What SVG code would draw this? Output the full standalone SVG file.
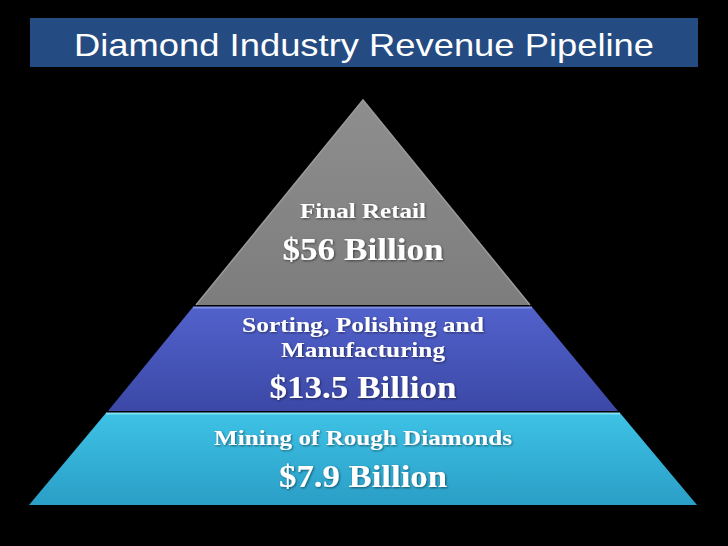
<svg xmlns="http://www.w3.org/2000/svg" width="728" height="546" viewBox="0 0 728 546">
  <style>
    .lbl { font-family: "Liberation Serif", "DejaVu Serif", serif; font-weight: bold; fill: #ffffff; text-anchor: middle; }
    .title { font-family: "Liberation Sans", "DejaVu Sans", sans-serif; fill: #ffffff; text-anchor: middle; font-size: 32px; }
  </style>
  <defs>
    <linearGradient id="gGray" x1="0" y1="0" x2="0" y2="1">
      <stop offset="0" stop-color="#8e8e8e"/>
      <stop offset="1" stop-color="#7d7d7d"/>
    </linearGradient>
    <linearGradient id="gBlue" x1="0" y1="0" x2="0" y2="1">
      <stop offset="0" stop-color="#5262cc"/>
      <stop offset="1" stop-color="#3b48a6"/>
    </linearGradient>
    <linearGradient id="gCyan" x1="0" y1="0" x2="0" y2="1">
      <stop offset="0" stop-color="#3ec2e6"/>
      <stop offset="1" stop-color="#2a9ec6"/>
    </linearGradient>
    <filter id="sh" x="-10%" y="-10%" width="120%" height="130%">
      <feDropShadow dx="1" dy="1" stdDeviation="1" flood-color="#000" flood-opacity="0.5"/>
    </filter>
  </defs>
  <rect width="728" height="546" fill="#000000"/>

  <g id="title">
    <rect x="30" y="18" width="668" height="49" fill="#244b82"/>
    <text class="title" x="364" y="56" font-size="33" textLength="580" lengthAdjust="spacingAndGlyphs">Diamond Industry Revenue Pipeline</text>
  </g>

  <g id="retail">
    <polygon points="363,100 530,305 196,305" fill="url(#gGray)"/>
    <polyline points="196,305 363,100 530,305" fill="none" stroke="#9a9a9a" stroke-width="1.5"/>
    <text class="lbl" x="363" y="218" font-size="22" textLength="126" lengthAdjust="spacingAndGlyphs" filter="url(#sh)">Final Retail</text>
    <text class="lbl" x="363" y="260" font-size="31" textLength="161" lengthAdjust="spacingAndGlyphs" filter="url(#sh)">$56 Billion</text>
  </g>

  <g id="manufacturing">
    <polygon points="193,307 532,307 618,411 108,411" fill="url(#gBlue)"/>
    <line x1="193" y1="307.5" x2="532" y2="307.5" stroke="#7f8fe8" stroke-width="2"/>
    <text class="lbl" x="363" y="332" font-size="22" textLength="242" lengthAdjust="spacingAndGlyphs" filter="url(#sh)">Sorting, Polishing and</text>
    <text class="lbl" x="363" y="357" font-size="22" textLength="164" lengthAdjust="spacingAndGlyphs" filter="url(#sh)">Manufacturing</text>
    <text class="lbl" x="363" y="398" font-size="31" textLength="187" lengthAdjust="spacingAndGlyphs" filter="url(#sh)">$13.5 Billion</text>
  </g>

  <g id="mining">
    <polygon points="106,413 620,413 697,505 29,505" fill="url(#gCyan)"/>
    <line x1="106" y1="413.5" x2="620" y2="413.5" stroke="#7fe0f6" stroke-width="2"/>
    <text class="lbl" x="363" y="445" font-size="22" textLength="298" lengthAdjust="spacingAndGlyphs" filter="url(#sh)">Mining of Rough Diamonds</text>
    <text class="lbl" x="363" y="487" font-size="32" textLength="168" lengthAdjust="spacingAndGlyphs" filter="url(#sh)">$7.9 Billion</text>
  </g>

  <g id="connectors"></g>
</svg>
